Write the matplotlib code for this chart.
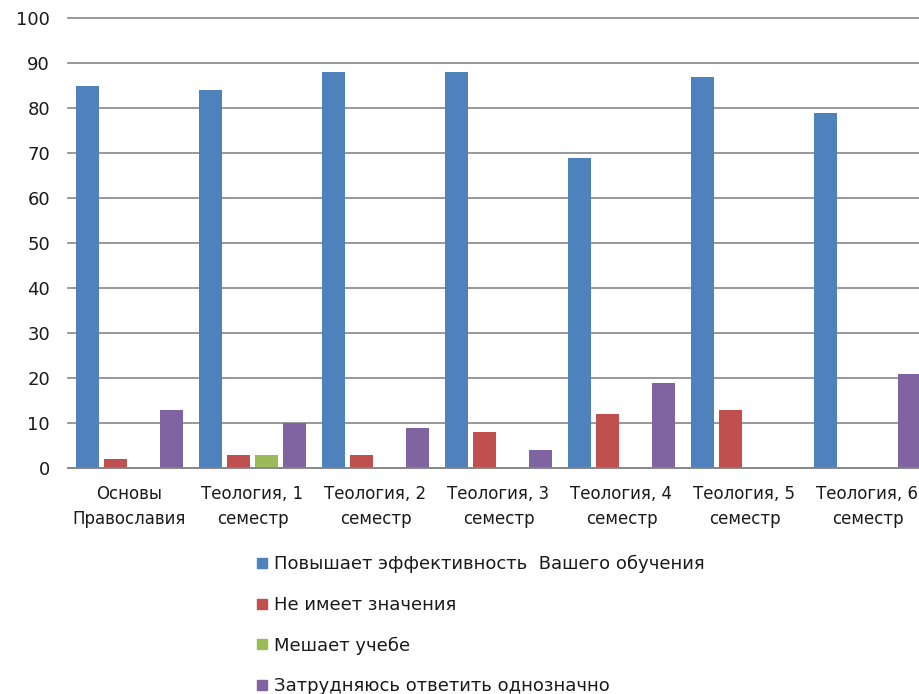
import matplotlib
matplotlib.use("Agg")
import matplotlib.pyplot as plt
from matplotlib.lines import Line2D
import numpy as np

categories = ["Основы\nПравославия", "Теология, 1\nсеместр", "Теология, 2\nсеместр",
              "Теология, 3\nсеместр", "Теология, 4\nсеместр", "Теология, 5\nсеместр",
              "Теология, 6\nсеместр"]
series_names = ["Повышает эффективность  Вашего обучения", "Не имеет значения",
                "Мешает учебе", "Затрудняюсь ответить однозначно"]
s_improves = [85, 84, 88, 88, 69, 87, 79]
s_no_matter = [2, 3, 3, 8, 12, 13, 0]
s_hinders = [0, 3, 0, 0, 0, 0, 0]
s_unsure = [13, 10, 9, 4, 19, 0, 21]
colors = ["#4F81BD", "#C0504D", "#9BBB59", "#8064A2"]
yticks = [0, 10, 20, 30, 40, 50, 60, 70, 80, 90, 100]

plt.rcParams['font.family'] = ['DejaVu Sans']
W, H = 920, 694
fig = plt.figure(figsize=(W / 100, H / 100), dpi=100)
ax = fig.add_axes([68 / W, (H - 468) / H, (929 - 68) / W, 450 / H])

x = np.arange(len(categories))
step = 0.2276
bw = 0.179
data = [s_improves, s_no_matter, s_hinders, s_unsure]
for i, (vals, c) in enumerate(zip(data, colors)):
    ax.bar(x + (i - 1.5) * step, vals, width=bw, color=c, zorder=3)

ax.set_xlim(-0.5, len(categories) - 0.5)
ax.set_ylim(0, 100)
ax.set_yticks(yticks)
ax.set_xticks(x)
ax.set_xticklabels(categories, fontsize=12, linespacing=1.5, color="#1a1a1a")
ax.tick_params(axis='y', length=0, pad=13, labelsize=13, labelcolor="#1a1a1a")
ax.tick_params(axis='x', length=0, pad=12)
ax.grid(axis='y', color="#868686", linewidth=1.2, zorder=0)
for gl in ax.yaxis.get_gridlines():
    gl.set_clip_on(False)
for s in ['top', 'right', 'left']:
    ax.spines[s].set_visible(False)
ax.spines['bottom'].set_color("#868686")
ax.spines['bottom'].set_linewidth(1.2)
ax.spines['bottom'].set_zorder(4)

handles = [Line2D([], [], marker='s', linestyle='none', markersize=7.5,
                  markerfacecolor=c, markeredgecolor=c) for c in colors]
fig.legend(handles, series_names, loc='upper left',
           bbox_to_anchor=(256 / W, 1 - 555 / H), frameon=False,
           fontsize=13, labelspacing=1.25, handlelength=0.7, handletextpad=0.3,
           borderpad=0, borderaxespad=0, labelcolor="#1a1a1a")

fig.savefig("out.png", dpi=100)
